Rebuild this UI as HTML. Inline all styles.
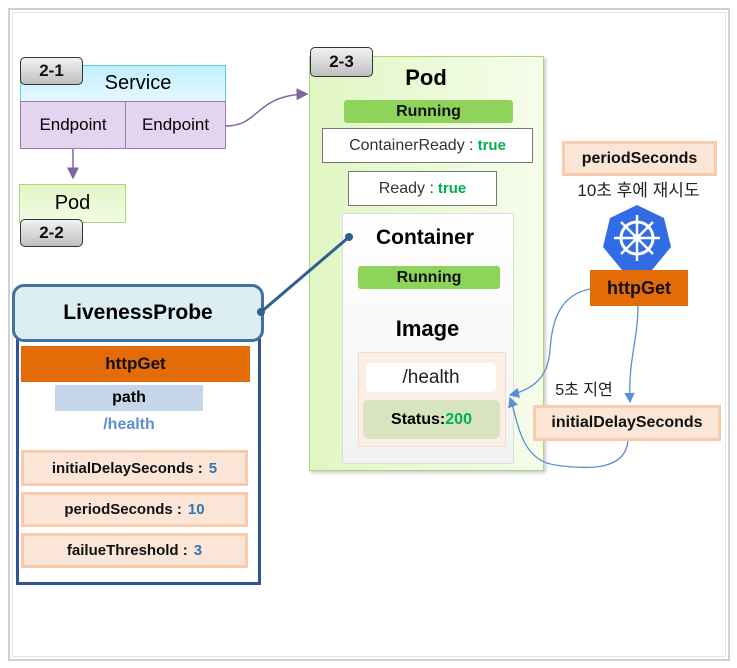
<!DOCTYPE html>
<html><head><meta charset="utf-8"><style>
body{margin:0;width:737px;height:668px;background:#fff;position:relative;overflow:hidden;font-family:"Liberation Sans","Noto Sans CJK KR",sans-serif}
.a{position:absolute;box-sizing:border-box;display:flex;align-items:center;justify-content:center;white-space:nowrap}
.tag{border:1.5px solid #333;border-radius:5px;background:linear-gradient(#f2f2f2,#bfbfbf);font-weight:bold;font-size:17px;color:#111}
.or{background:#fbe5d6;border:3px solid #f8cbad;font-weight:bold;font-size:16px;color:#111}
.run{background:#8ed45a;border-radius:3px;font-weight:bold;font-size:16px;color:#111}
b.v{color:#2e75b6;margin-left:6px}
</style></head><body>
<div class="a" style="left:8px;top:8px;width:722px;height:653px;border:2px solid #d0d0d0;background:#fff"></div>
<div class="a" style="left:12px;top:12px;width:714px;height:645px;border:1px solid #e4e4e4"></div>

<svg class="a" style="left:0;top:0" width="737" height="668">
<defs><marker id="p" markerWidth="8" markerHeight="8" refX="7" refY="4" orient="auto"><path d="M0,0L8,4L0,8z" fill="#8064a2"/></marker>
<marker id="b" markerWidth="8" markerHeight="8" refX="7" refY="4" orient="auto"><path d="M0,0L8,4L0,8z" fill="#5b8fd0"/></marker></defs>
<path d="M73,148V178" stroke="#8064a2" stroke-width="1.5" fill="none" marker-end="url(#p)"/>
<path d="M226,126C260,126 255,95 307,94" stroke="#8064a2" stroke-width="1.5" fill="none" marker-end="url(#p)"/>
</svg>

<div class="a" style="left:20px;top:65px;width:206px;height:37px;background:linear-gradient(#bfefff,#e6f8ff);border:1px solid #6cc;font-size:20px;padding-left:30px">Service</div>
<div class="a" style="left:20px;top:101px;width:106px;height:48px;background:#e4d4f0;border:1.5px solid #9a7bb5;font-size:17px">Endpoint</div>
<div class="a" style="left:125px;top:101px;width:101px;height:48px;background:#e4d4f0;border:1.5px solid #9a7bb5;font-size:17px">Endpoint</div>
<div class="a tag" style="left:20px;top:57px;width:63px;height:28px">2-1</div>
<div class="a" style="left:19px;top:184px;width:107px;height:39px;background:linear-gradient(#e3f6c4,#f2fbe4);border:1px solid #a8d878;font-size:20px">Pod</div>
<div class="a tag" style="left:20px;top:219px;width:63px;height:28px">2-2</div>

<div class="a" style="left:309px;top:56px;width:235px;height:415px;background:linear-gradient(90deg,#e0f6c2,#f6fdec);border:1.5px solid #a8d878;box-shadow:2px 2px 3px #ccc"></div>
<div class="a tag" style="left:310px;top:47px;width:63px;height:30px">2-3</div>
<div class="a" style="left:380px;top:64px;width:92px;height:28px;font-weight:bold;font-size:22px">Pod</div>
<div class="a run" style="left:344px;top:100px;width:169px;height:23px">Running</div>
<div class="a" style="left:322px;top:128px;width:211px;height:35px;background:#fff;border:1px solid #777;font-size:16px;color:#333">ContainerReady : <b style="color:#00b050;margin-left:4px;font-size:15px">true</b></div>
<div class="a" style="left:348px;top:171px;width:149px;height:35px;background:#fff;border:1px solid #777;font-size:16px;color:#333">Ready : <b style="color:#00b050;margin-left:4px;font-size:15px">true</b></div>
<div class="a" style="left:342px;top:213px;width:172px;height:251px;background:linear-gradient(#fff,#f2f2f2);border:1px solid #ddd"></div>
<div class="a" style="left:360px;top:225px;width:130px;height:26px;font-weight:bold;font-size:21px">Container</div>
<div class="a run" style="left:358px;top:266px;width:142px;height:23px">Running</div>
<div class="a" style="left:380px;top:316px;width:95px;height:26px;font-weight:bold;font-size:22px">Image</div>
<div class="a" style="left:358px;top:352px;width:148px;height:95px;background:#fbeee4;border:1px solid #f0dccc"></div>
<div class="a" style="left:366px;top:363px;width:130px;height:29px;background:#fff;border-radius:4px;font-size:19px;color:#222">/health</div>
<div class="a" style="left:363px;top:400px;width:137px;height:39px;background:#d7e4bf;border-radius:6px;font-weight:bold;font-size:16px">Status:<span style="color:#00b050">200</span></div>

<div class="a or" style="left:562px;top:141px;width:155px;height:35px">periodSeconds</div>
<div class="a" style="left:556px;top:176px;width:165px;height:24px;font-size:17px;color:#222">10초 후에 재시도</div>
<svg class="a" style="left:600px;top:203px" width="74" height="70" viewBox="0 0 74 70">
<polygon points="37,2 64,15 71,44 52,67 22,67 3,44 10,15" fill="#326ce5"/>
<circle cx="37" cy="35" r="16" fill="none" stroke="#fff" stroke-width="3"/>
<g stroke="#fff" stroke-width="2.5"><line x1="37" y1="12" x2="37" y2="58"/><line x1="14" y1="35" x2="60" y2="35"/><line x1="21" y1="19" x2="53" y2="51"/><line x1="53" y1="19" x2="21" y2="51"/></g>
<circle cx="37" cy="35" r="4" fill="#fff"/></svg>
<div class="a" style="left:590px;top:270px;width:98px;height:36px;background:#e36c09;font-weight:bold;font-size:18px;color:#111">httpGet</div>
<div class="a" style="left:546px;top:377px;width:76px;height:22px;font-size:16px;color:#222">5초 지연</div>
<div class="a or" style="left:533px;top:405px;width:188px;height:36px">initialDelaySeconds</div>

<div class="a" style="left:16px;top:338px;width:245px;height:247px;border:3px solid #2f5597;background:#fff"></div>
<div class="a" style="left:12px;top:284px;width:252px;height:58px;background:#dbeef4;border:3px solid #41719c;border-radius:12px;font-weight:bold;font-size:21px">LivenessProbe</div>
<div class="a" style="left:21px;top:346px;width:229px;height:36px;background:#e36c09;font-weight:bold;font-size:17px;color:#111">httpGet</div>
<div class="a" style="left:55px;top:385px;width:148px;height:26px;background:#c5d5ea;font-weight:bold;font-size:16px">path</div>
<div class="a" style="left:55px;top:414px;width:148px;height:22px;font-weight:bold;font-size:16px;color:#5b8fd0">/health</div>
<div class="a or" style="left:21px;top:450px;width:227px;height:36px;font-size:15px">initialDelaySeconds :<b class="v">5</b></div>
<div class="a or" style="left:21px;top:492px;width:227px;height:35px;font-size:15px">periodSeconds :<b class="v">10</b></div>
<div class="a or" style="left:21px;top:533px;width:227px;height:35px;font-size:15px">failueThreshold :<b class="v">3</b></div>

<svg class="a" style="left:0;top:0" width="737" height="668">
<line x1="261" y1="312" x2="349" y2="237" stroke="#2f5f8f" stroke-width="3"/>
<circle cx="349" cy="237" r="4" fill="#2f5f8f"/><circle cx="261" cy="312" r="4" fill="#2f5f8f"/>
<path d="M590,289C560,295 552,320 550,350C548,380 530,390 510,395" stroke="#5b8fd0" stroke-width="1.3" fill="none" marker-end="url(#b)"/>
<path d="M638,306C638,340 628,360 630,402" stroke="#5b8fd0" stroke-width="1.3" fill="none" marker-end="url(#b)"/>
<path d="M628,441C625,470 590,470 555,465C520,460 518,420 510,398" stroke="#5b8fd0" stroke-width="1.3" fill="none" marker-end="url(#b)"/>
</svg>
</body></html>
